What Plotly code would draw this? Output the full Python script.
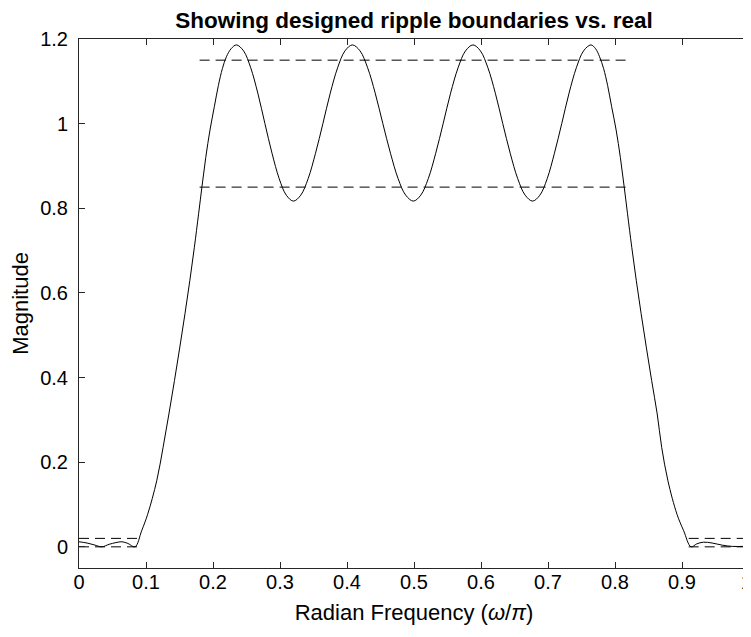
import plotly.graph_objects as go

# Magnitude response
freq = [0.000, 0.012, 0.024, 0.034, 0.045, 0.055, 0.064, 0.073, 0.0836,
        0.0935, 0.1025, 0.116, 0.1255, 0.1342, 0.1425, 0.1505, 0.1582, 0.1655,
        0.1722, 0.1785, 0.1836, 0.1892, 0.1955, 0.202, 0.208, 0.214, 0.220, 0.227,
        0.235, 0.2456, 0.2563, 0.2669, 0.2775, 0.2881, 0.2988, 0.3094,
        0.320, 0.331, 0.342, 0.353, 0.364, 0.375, 0.386, 0.397,
        0.408, 0.4194, 0.4308, 0.4421, 0.4535, 0.4649, 0.4763, 0.4876,
        0.499, 0.5101, 0.5213, 0.5324, 0.5435, 0.5546, 0.5658, 0.5769,
        0.588, 0.5991, 0.6103, 0.6214, 0.6325, 0.6436, 0.6548, 0.6659,
        0.677, 0.6879, 0.6988, 0.7096, 0.7205, 0.7314, 0.7423, 0.7531,
        0.764, 0.771, 0.777, 0.783, 0.789, 0.795, 0.8017, 0.808, 0.8136,
        0.8187, 0.825, 0.8317, 0.839, 0.8467, 0.8547, 0.863, 0.8697,
        0.879, 0.8925, 0.9025, 0.9135, 0.922, 0.932, 0.945, 0.960, 0.975,
        0.990, 1.000]
mag = [0.012, 0.009, 0.004, 0.000, 0.006, 0.010, 0.012, 0.008, 0.000,
       0.038, 0.077, 0.156, 0.235, 0.314, 0.393, 0.472, 0.551, 0.630,
       0.708, 0.787, 0.852, 0.920, 0.985, 1.040, 1.090, 1.130, 1.158, 1.177,
       1.186, 1.172, 1.132, 1.072, 1.000, 0.930, 0.870, 0.831,
       0.817, 0.831, 0.870, 0.930, 1.000, 1.072, 1.132, 1.172,
       1.186, 1.172, 1.132, 1.072, 1.000, 0.930, 0.870, 0.831,
       0.817, 0.831, 0.870, 0.930, 1.000, 1.072, 1.132, 1.172,
       1.186, 1.172, 1.132, 1.072, 1.000, 0.930, 0.870, 0.831,
       0.817, 0.831, 0.870, 0.930, 1.000, 1.072, 1.132, 1.172,
       1.186, 1.177, 1.158, 1.130, 1.090, 1.040, 0.985, 0.920, 0.852,
       0.787, 0.708, 0.630, 0.551, 0.472, 0.393, 0.314, 0.235,
       0.156, 0.077, 0.038, 0.000, 0.007, 0.011, 0.009, 0.004, 0.001,
       0.001, 0.001]

# Designed ripple boundaries
pass_band = [0.18, 0.82]
pass_upper = 1.15
pass_lower = 0.85
stop_band_1 = [0.0, 0.09]
stop_band_2 = [0.91, 1.0]
stop_upper = 0.02
stop_lower = 0.0

x_ticks = [0, 0.1, 0.2, 0.3, 0.4, 0.5, 0.6, 0.7, 0.8, 0.9, 1]
x_tick_text = ["0", "0.1", "0.2", "0.3", "0.4", "0.5", "0.6", "0.7", "0.8", "0.9", "1&nbsp;"]
y_ticks = [0, 0.2, 0.4, 0.6, 0.8, 1.0, 1.2]
y_tick_text = ["0", "0.2", "0.4", "0.6", "0.8", "1", "1.2"]

FONT = "Liberation Sans, Arial, Helvetica, sans-serif"
AX = "#262626"

fig = go.Figure()

dash_style = dict(color="#000000", width=1, dash="10px,6px")
for level in (pass_upper, pass_lower):
    fig.add_trace(go.Scatter(x=pass_band, y=[level, level], mode="lines",
                             line=dash_style, showlegend=False, hoverinfo="skip"))
for band in (stop_band_1, stop_band_2):
    for level in (stop_upper, stop_lower):
        fig.add_trace(go.Scatter(x=band, y=[level, level], mode="lines",
                                 line=dash_style, showlegend=False, hoverinfo="skip"))

fig.add_trace(go.Scatter(x=freq, y=mag, mode="lines",
                         line=dict(color="#000000", width=1, shape="spline", smoothing=1.0),
                         showlegend=False))

axis_common = dict(showline=True, linecolor=AX, linewidth=1, mirror="ticks",
                   ticks="inside", ticklen=6, tickwidth=1, tickcolor=AX,
                   showgrid=False, zeroline=False, automargin=False,
                   ticklabeloverflow="allow",
                   tickfont=dict(family=FONT, size=20, color="#000000"))

# The page body adds an 8px offset, margins compensate for it
fig.update_layout(
    width=751, height=637,
    paper_bgcolor="white", plot_bgcolor="white",
    margin=dict(l=71, r=10, t=31, b=77),
    font=dict(family=FONT, color="#000000"),
    title=dict(text="<b>Showing designed ripple boundaries vs. real</b>",
               x=0.5, xref="paper", xanchor="center",
               y=1 - 12 / 637, yref="container", yanchor="middle",
               font=dict(family=FONT, size=22.5, color="#000000")),
    xaxis=dict(range=[0, 1], tickvals=x_ticks, ticktext=x_tick_text,
               ticklabelstandoff=-4,
               title=dict(text="Radian Frequency (<i>ω</i>/<i>π</i>)",
                          font=dict(family=FONT, size=22, color="#000000"), standoff=12),
               **axis_common),
    yaxis=dict(range=[-0.05, 1.2], tickvals=y_ticks, ticktext=y_tick_text,
               ticklabelstandoff=6,
               title=dict(text="Magnitude",
                          font=dict(family=FONT, size=22, color="#000000"), standoff=6),
               **axis_common),
)

fig.write_html("out.html")
